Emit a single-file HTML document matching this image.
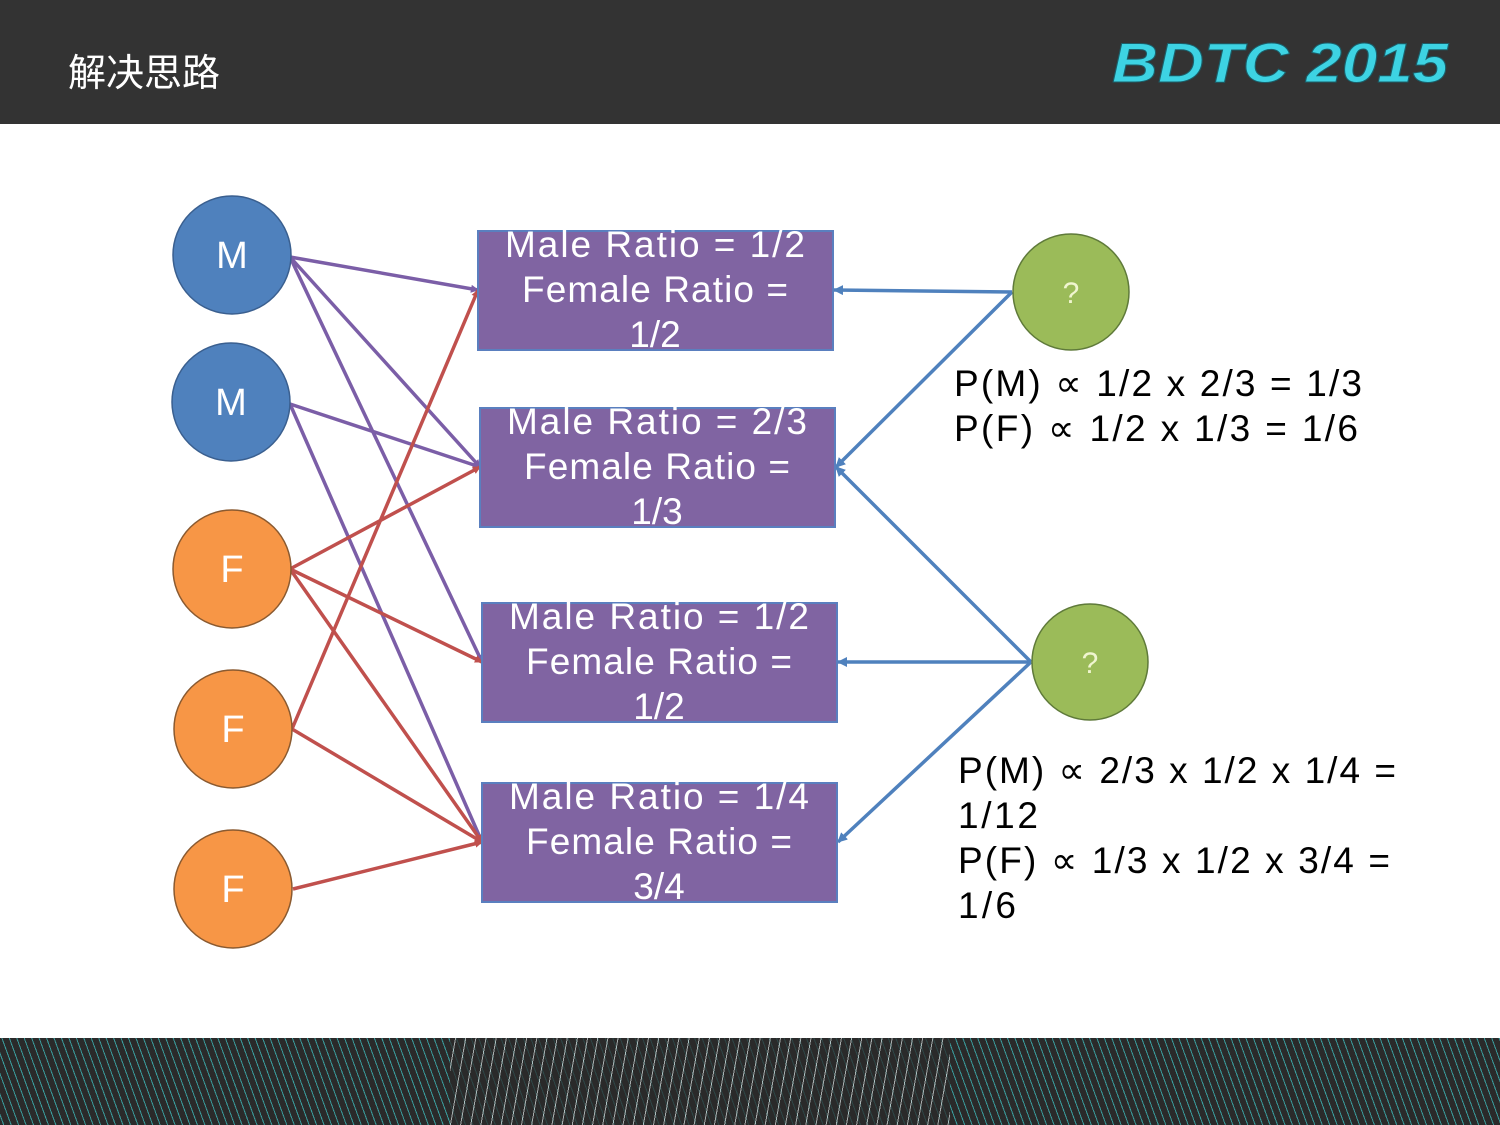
<!DOCTYPE html>
<html><head><meta charset="utf-8"><style>
html,body{margin:0;padding:0;width:1500px;height:1125px;overflow:hidden;background:#fff}
.hdr{position:absolute;left:0;top:0;width:1500px;height:124px;background:#333}
.title{position:absolute;left:68px;top:42px;color:#fff;font:38px "Liberation Sans","Noto Sans CJK SC",sans-serif}
.band{position:absolute;left:0;top:1038px;width:1500px;height:87px;background:
repeating-linear-gradient(70deg,#2a2a2a 0 3px,#3a9a9a 3px 4px,#2a2a2a 4px 7px),#2a2a2a}
.band2{position:absolute;left:450px;top:1038px;width:500px;height:87px;background:repeating-linear-gradient(100deg,#2a2a2a 0 5px,#cfd8d8 5px 6px,#2a2a2a 6px 10px);opacity:.75}
</style></head><body>
<div class="hdr"></div>
<div class="title">解决思路</div>
<svg width="1500" height="1125" style="position:absolute;left:0;top:0">
<defs>
<marker id="ap" markerWidth="8" markerHeight="8" refX="7" refY="4" orient="auto" markerUnits="userSpaceOnUse"><path d="M0,0L8,4L0,8z" fill="#7b5ea7"/></marker>
<marker id="ar" markerWidth="8" markerHeight="8" refX="7" refY="4" orient="auto" markerUnits="userSpaceOnUse"><path d="M0,0L8,4L0,8z" fill="#c0504d"/></marker>
<marker id="ab" markerWidth="10" markerHeight="10" refX="9" refY="5" orient="auto" markerUnits="userSpaceOnUse"><path d="M0,0L10,5L0,10z" fill="#4f81bd"/></marker>
</defs>
<text x="1112" y="82" font-family="Liberation Sans, sans-serif" font-weight="bold" font-style="italic" font-size="56" fill="#3dd3e3" stroke="#1a5f6a" stroke-width="1" textLength="336" lengthAdjust="spacingAndGlyphs">BDTC 2015</text>
<g stroke-width="3.5" fill="none">
<g stroke="#7b5ea7" marker-end="url(#ap)">
<line x1="290" y1="257" x2="478" y2="290"/>
<line x1="290" y1="257" x2="480" y2="467"/>
<line x1="290" y1="257" x2="482" y2="662"/>
<line x1="290" y1="404" x2="480" y2="467"/>
<line x1="290" y1="404" x2="482" y2="842"/>
</g>
<g stroke="#c0504d" marker-end="url(#ar)">
<line x1="290" y1="569" x2="480" y2="467"/>
<line x1="290" y1="569" x2="482" y2="662"/>
<line x1="290" y1="569" x2="482" y2="842"/>
<line x1="292" y1="729" x2="478" y2="290"/>
<line x1="292" y1="729" x2="482" y2="842"/>
<line x1="293" y1="889" x2="482" y2="842"/>
</g>
<g stroke="#4f81bd" marker-end="url(#ab)">
<line x1="1012" y1="292" x2="834" y2="290"/>
<line x1="1012" y1="292" x2="836" y2="467"/>
<line x1="1031" y1="662" x2="836" y2="467"/>
<line x1="1031" y1="662" x2="838" y2="662"/>
<line x1="1031" y1="662" x2="838" y2="842"/>
</g>
</g>
<g stroke="#3a5f8f" stroke-width="1.5">
<circle cx="232" cy="255" r="59" fill="#4f81bd"/>
<circle cx="231" cy="402" r="59" fill="#4f81bd"/>
</g>
<g stroke="#8a5a30" stroke-width="1.5" fill="#f79646">
<circle cx="232" cy="569" r="59"/>
<circle cx="233" cy="729" r="59"/>
<circle cx="233" cy="889" r="59"/>
</g>
<g stroke="#5f7a3a" stroke-width="1.5" fill="#9bbb59">
<circle cx="1071" cy="292" r="58"/>
<circle cx="1090" cy="662" r="58"/>
</g>
<g fill="#8064a2" stroke="#5a7fbf" stroke-width="2">
<rect x="478" y="231" width="355" height="119"/>
<rect x="480" y="408" width="355" height="119"/>
<rect x="482" y="603" width="355" height="119"/>
<rect x="482" y="783" width="355" height="119"/>
</g>
<g font-family="Liberation Sans, sans-serif" fill="#fff" text-anchor="middle" font-size="38">
<text x="232" y="268">M</text><text x="231" y="415">M</text>
<text x="232" y="582">F</text><text x="233" y="742">F</text><text x="233" y="902">F</text>
<text x="1071" y="303" font-size="30" fill="#f0f5d0">?</text>
<text x="1090" y="673" font-size="30" fill="#f0f5d0">?</text>
</g>
<g font-family="Liberation Sans, sans-serif" fill="#fff" text-anchor="middle" font-size="37" lengthAdjust="spacing">
<text x="655" y="257" textLength="300">Male Ratio = 1/2</text><text x="655" y="302" textLength="266">Female Ratio =</text><text x="655" y="347">1/2</text>
<text x="657" y="434" textLength="300">Male Ratio = 2/3</text><text x="657" y="479" textLength="266">Female Ratio =</text><text x="657" y="524">1/3</text>
<text x="659" y="629" textLength="300">Male Ratio = 1/2</text><text x="659" y="674" textLength="266">Female Ratio =</text><text x="659" y="719">1/2</text>
<text x="659" y="809" textLength="300">Male Ratio = 1/4</text><text x="659" y="854" textLength="266">Female Ratio =</text><text x="659" y="899">3/4</text>
</g>
<g font-family="Liberation Sans, DejaVu Sans, sans-serif" fill="#000" font-size="37">
<text x="954" y="396" textLength="408">P(M) ∝ 1/2 x 2/3 = 1/3</text>
<text x="954" y="441" textLength="404">P(F)  ∝ 1/2 x 1/3 = 1/6</text>
<text x="958" y="783" textLength="438">P(M) ∝ 2/3 x 1/2 x 1/4 =</text>
<text x="958" y="828" textLength="80">1/12</text>
<text x="958" y="873" textLength="432">P(F)  ∝ 1/3 x 1/2 x 3/4 =</text>
<text x="958" y="918" textLength="58">1/6</text>
</g>
</svg>
<div class="band"></div>
<div class="band2"></div>
</body></html>
